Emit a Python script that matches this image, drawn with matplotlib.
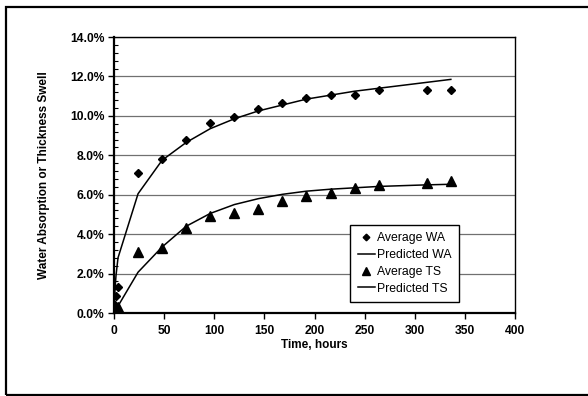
import matplotlib
matplotlib.use("Agg")
from matplotlib import pyplot as plt
from matplotlib.patches import Rectangle
from matplotlib.ticker import MultipleLocator, FuncFormatter

plt.rcParams["font.family"] = ["Liberation Sans", "DejaVu Sans"]

# measured data (time in hours, values in %)
time_avg = [0, 0.5, 1, 2, 4, 24, 48, 72, 96, 120, 144, 168, 192, 216, 240, 264, 312, 336]
wa_avg = [0.0, 0.2, 0.4, 0.85, 1.3, 7.1, 7.8, 8.8, 9.65, 9.95, 10.35, 10.65, 10.9, 11.05, 11.05, 11.3, 11.3, 11.3]
ts_avg = [0.0, 0.05, 0.1, 0.15, 0.3, 3.08, 3.32, 4.3, 4.9, 5.05, 5.28, 5.68, 5.95, 6.08, 6.35, 6.5, 6.57, 6.72]

# model predictions
time_pred = [0, 1, 2, 4, 24, 48, 72, 96, 120, 144, 168, 192, 216, 240, 264, 312, 336]
wa_pred = [0.0, 1.2, 1.9, 2.8, 6.05, 7.75, 8.65, 9.35, 9.85, 10.25, 10.55, 10.85, 11.05, 11.25, 11.4, 11.7, 11.85]
ts_pred = [0.0, 0.1, 0.2, 0.35, 2.07, 3.35, 4.4, 5.05, 5.5, 5.8, 6.02, 6.18, 6.28, 6.35, 6.42, 6.5, 6.53]

fig = plt.figure(figsize=(5.88, 3.96), dpi=100)
ax = fig.add_axes([114 / 588, 1 - 313 / 396, 401 / 588, 276 / 396])

# outer frame around the whole chart
fig.patches.append(Rectangle((6 / 588, 1 / 396), 1.2, 388 / 396, transform=fig.transFigure,
                             fill=False, edgecolor="black", linewidth=1.6))

ax.plot(time_avg, wa_avg, linestyle="none", marker="D", markersize=4.5, color="black", label="Average WA")
ax.plot(time_pred, wa_pred, color="black", linewidth=1.1, label="Predicted WA")
ax.plot(time_avg, ts_avg, linestyle="none", marker="^", markersize=7, color="black", label="Average TS")
ax.plot(time_pred, ts_pred, color="black", linewidth=1.1, label="Predicted TS")

ax.set_xlim(0, 400)
ax.set_ylim(0, 14)
ax.xaxis.set_major_locator(MultipleLocator(50))
ax.yaxis.set_major_locator(MultipleLocator(2))
ax.yaxis.set_minor_locator(MultipleLocator(0.4))
ax.yaxis.set_major_formatter(FuncFormatter(lambda v, p: f"{v:.1f}%"))
ax.grid(axis="y", which="major", color="#707070", linewidth=0.9)
ax.set_axisbelow(True)

ax.tick_params(axis="both", which="major", labelsize=8.7, length=4, width=1, direction="out")
ax.tick_params(axis="x", which="major", pad=5)
ax.tick_params(axis="y", which="major", pad=3)
ax.tick_params(axis="y", which="minor", length=3, width=0.8, direction="in")
for lbl in ax.get_xticklabels() + ax.get_yticklabels():
    lbl.set_fontweight("bold")

for side in ["left", "bottom"]:
    ax.spines[side].set_linewidth(1.6)
for side in ["top", "right"]:
    ax.spines[side].set_linewidth(1.0)

ax.set_xlabel("Time, hours", fontsize=8.5, fontweight="bold", labelpad=1)
ax.set_ylabel("Water Absorption or Thickness Swell", fontsize=8.5, fontweight="bold", labelpad=14)

leg = ax.legend(loc="upper left", bbox_to_anchor=(0.589, 0.32), fontsize=8.8, frameon=True,
                fancybox=False, edgecolor="black", framealpha=1, borderpad=0.6,
                handlelength=1.4, handletextpad=0.2, labelspacing=0.4, markerscale=0.75,
                borderaxespad=0)
leg.get_frame().set_linewidth(1.0)

fig.savefig("out.png", dpi=100)
